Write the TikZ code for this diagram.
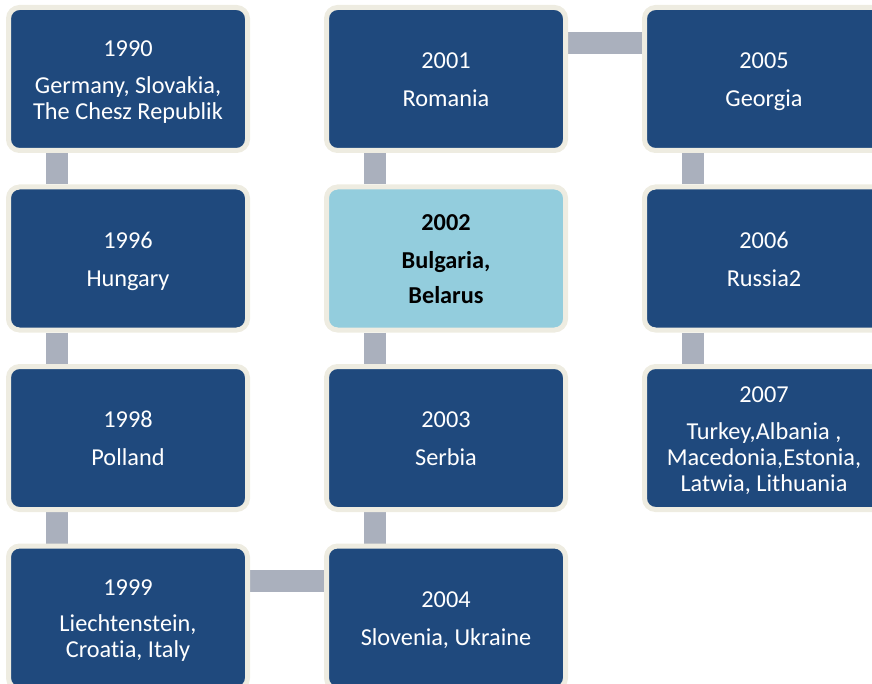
\documentclass[tikz,border=0pt]{standalone}
\usepackage{fontspec}
\setmainfont{Carlito}[Ligatures=NoCommon]
\usetikzlibrary{backgrounds}
\definecolor{boxblue}{HTML}{1F497D}
\definecolor{boxlight}{HTML}{93CDDD}
\definecolor{boxrim}{HTML}{EEECE1}
\definecolor{linkgray}{HTML}{AAB0BD}
% fixed line height so every box centres its lines the same way
\newcommand\ystrut{\rule[-4pt]{0pt}{25.5pt}}
\tikzset{
  yearbox/.style={draw=boxrim, line width=5pt, fill=boxblue, rounded corners=11pt,
    minimum width=239pt, minimum height=143pt, inner sep=0pt, align=center,
    text=white, font=\fontsize{24.3}{26}\selectfont},
  markedbox/.style={yearbox, fill=boxlight, text=black,
    font=\fontsize{24.3}{26}\selectfont\bfseries},
  link/.style={draw=linkgray, line width=22pt, line cap=butt}
}
\begin{document}
\begin{tikzpicture}[x=1pt, y=-1pt]
\useasboundingbox (0,0) rectangle (872,684);
\clip (0,0) rectangle (872,684);

% first column
\node[yearbox] (y1990) at (128,79)    {\ystrut 1990\\[11pt]Germany, Slovakia,\\\ystrut The Chesz Republik};
\node[yearbox] (y1996) at (128,258.5) {\ystrut 1996\\[12pt]\ystrut Hungary};
\node[yearbox] (y1998) at (128,438)   {\ystrut 1998\\[12pt]\ystrut Polland};
\node[yearbox] (y1999) at (128,617.5) {\ystrut 1999\\[10pt]Liechtenstein,\\\ystrut Croatia, Italy};

% second column
\node[yearbox]    (y2001) at (446,79)    {\ystrut 2001\\[12pt]\ystrut Romania};
\node[markedbox]  (y2002) at (446,258.5) {\ystrut 2002\\[12pt]Bulgaria,\\[9pt]\ystrut Belarus};
\node[yearbox]    (y2003) at (446,438)   {\ystrut 2003\\[12pt]\ystrut Serbia};
\node[yearbox]    (y2004) at (446,617.5) {\ystrut 2004\\[12pt]\ystrut Slovenia, Ukraine};

% third column
\node[yearbox] (y2005) at (764,79)    {\ystrut 2005\\[12pt]\ystrut Georgia};
\node[yearbox] (y2006) at (764,258.5) {\ystrut 2006\\[12pt]\ystrut Russia2};
\node[yearbox] (y2007) at (764,438)   {\ystrut 2007\\[11pt]Turkey,Albania ,\\Macedonia,Estonia,\\\ystrut Latwia, Lithuania};

% connecting bars behind the boxes
\begin{pgfonlayer}{background}
  \foreach \a/\b in {y1990/y1996, y1996/y1998, y1998/y1999,
                     y2001/y2002, y2002/y2003, y2003/y2004,
                     y2005/y2006, y2006/y2007}
    \draw[link] ([xshift=-71pt]\a.south) -- ([xshift=-71pt]\b.north);
  \draw[link] ([yshift=36pt]y2001.east) -- ([yshift=36pt]y2005.west);
  \draw[link] ([yshift=36.5pt]y1999.east) -- ([yshift=36.5pt]y2004.west);
\end{pgfonlayer}
\end{tikzpicture}
\end{document}
